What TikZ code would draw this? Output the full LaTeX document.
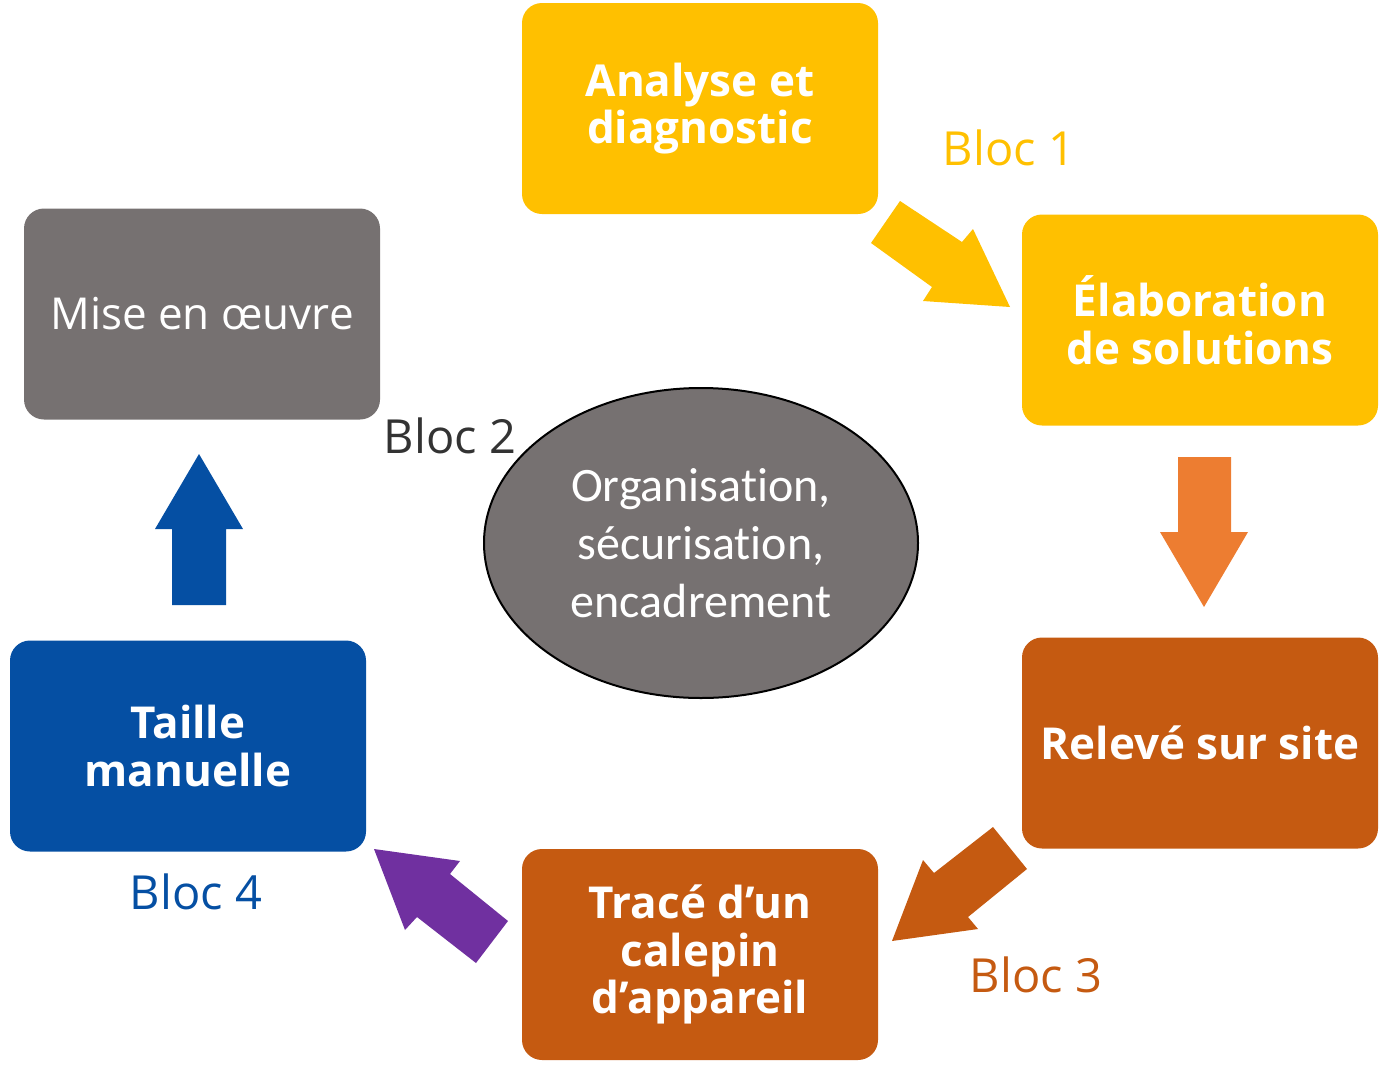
\documentclass[tikz,border=0pt]{standalone}
\usepackage{fontspec}
\usetikzlibrary{shapes.geometric}
\setmainfont{Open Sans}
\newfontfamily\boxfont{Open Sans}
\newfontfamily\calfont[Ligatures={NoCommon,NoRare}]{Carlito}
\definecolor{gold}{HTML}{FFC000}
\definecolor{rust}{HTML}{C55A11}
\definecolor{orng}{HTML}{ED7D31}
\definecolor{navy}{HTML}{054FA3}
\definecolor{purp}{HTML}{7030A0}
\definecolor{greyb}{HTML}{767171}
\definecolor{darktxt}{HTML}{333333}
\tikzset{
  stepbox/.style={rounded corners=20pt, minimum width=356pt, minimum height=211pt, inner sep=0pt, text=white, align=center, font=\boxfont\bfseries\fontsize{44}{47.5}\selectfont},
  bloclabel/.style={font=\boxfont\fontsize{47}{50}\selectfont, inner sep=0pt}
}
\begin{document}
\begin{tikzpicture}[x=1pt,y=-1pt]
\useasboundingbox (0,0) rectangle (1384,1066);
\node[stepbox, fill=gold] (ana) at (700,108.5) {Analyse et\\diagnostic};
\node[stepbox, fill=gold] (ela) at (1200,320) {Élaboration\\de solutions};
\node[stepbox, fill=rust] (rel) at (1200,743) {Relevé sur site};
\node[stepbox, fill=rust] (tra) at (700,954.5) {Tracé d’un\\calepin\\d’appareil};
\node[stepbox, fill=navy] (tai) at (188,746) {Taille\\manuelle};
\node[stepbox, fill=greyb, font=\boxfont\fontsize{44}{50}\selectfont] (mise) at (202,314) {Mise en œuvre};
\node[ellipse, draw=black, line width=2pt, fill=greyb, minimum width=434pt, minimum height=310pt, inner sep=0pt, text=white, align=center, font=\calfont\fontsize{48}{58}\selectfont] (org) at (701,543) {Organisation,\\sécurisation,\\encadrement};
\node[bloclabel, text=gold] (b1) at (1009,148) {Bloc 1};
\node[bloclabel, text=darktxt] (b2) at (450,436) {Bloc 2};
\node[bloclabel, text=rust] (b3) at (1036,975) {Bloc 3};
\node[bloclabel, text=navy] (b4) at (196,892) {Bloc 4};
% block arrows
\fill[gold] (900,201) -- (962,242) -- (973,229) -- (1010,307) -- (923,301) -- (932,287) -- (871,243) -- cycle;
\fill[orng] (1178,457) -- (1231,457) -- (1231,532) -- (1248,532) -- (1204,607) -- (1160,532) -- (1178,532) -- cycle;
\fill[rust] (993,827) -- (1027,869) -- (968,917) -- (978,929) -- (892,941) -- (923,860) -- (934,873) -- cycle;
\fill[purp] (374,849) -- (460,861) -- (450,874) -- (508,921) -- (476,963) -- (417,917) -- (405,930) -- cycle;
\fill[navy] (199,454) -- (243,529) -- (226,529) -- (226,605) -- (172,605) -- (172,529) -- (155,529) -- cycle;
\end{tikzpicture}
\end{document}
